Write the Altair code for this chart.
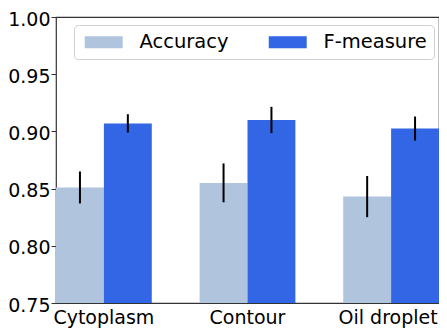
import altair as alt
import pandas as pd

categories = ["Cytoplasm", "Contour", "Oil droplet"]
metrics = ["Accuracy", "F-measure"]
accuracy = [0.851, 0.855, 0.843]
accuracy_err = [0.014, 0.017, 0.018]
fmeasure = [0.907, 0.910, 0.9025]
fmeasure_err = [0.008, 0.0115, 0.0105]
colors = ["#b0c4de", "#3366e4"]

rows = []
for c, a, ae, f, fe in zip(categories, accuracy, accuracy_err, fmeasure, fmeasure_err):
    rows.append({"category": c, "metric": "Accuracy", "value": a, "lo": a - ae, "hi": a + ae})
    rows.append({"category": c, "metric": "F-measure", "value": f, "lo": f - fe, "hi": f + fe})
df = pd.DataFrame(rows)

FONT = "DejaVu Sans"

x = alt.X("category:N", sort=categories, title=None,
          scale=alt.Scale(paddingInner=0.333, paddingOuter=0),
          axis=alt.Axis(labelAngle=0, ticks=False, domain=False, labelFontSize=19,
                        labelFont=FONT, labelColor="#000", labelPadding=5,
                        labelOffset=alt.ExprRef("datum.value == 'Oil droplet' ? -3 : 0")))
xo = alt.XOffset("metric:N", sort=metrics, scale=alt.Scale(paddingInner=0, paddingOuter=0))
yscale = alt.Scale(domain=[0.75, 1.0], zero=False, nice=False)

bars = alt.Chart(df).mark_bar(clip=True).encode(
    x=x, xOffset=xo,
    y=alt.Y("value:Q", scale=yscale, title=None,
            axis=alt.Axis(values=[0.75, 0.8, 0.85, 0.9, 0.95, 1.0], format=".2f", grid=False,
                          domain=False, tickSize=5, tickColor="#333", labelFontSize=19,
                          labelFont=FONT, labelColor="#000", labelPadding=1, labelOffset=2)),
    color=alt.Color("metric:N", sort=metrics, scale=alt.Scale(domain=metrics, range=colors),
                    legend=alt.Legend(title=None, orient="none", legendX=18, legendY=8,
                                      direction="horizontal", symbolType="M-1,-1H5.33V1H-1Z",
                                      symbolSize=144, symbolStrokeWidth=0, symbolOpacity=1,
                                      labelFontSize=19.5, labelFont=FONT, labelColor="#000",
                                      columnPadding=36, labelOffset=39, padding=7,
                                      fillColor="white", strokeColor="#d0d0d0", cornerRadius=4)),
)

errs = alt.Chart(df).mark_rule(color="black", strokeWidth=2).encode(
    x=x, xOffset=xo,
    y=alt.Y("lo:Q", scale=yscale),
    y2="hi:Q",
)

chart = alt.layer(bars, errs).properties(
    width=383, height=286,
    autosize=alt.AutoSizeParams(type="none"),
    padding={"left": 48, "top": 9, "right": 0, "bottom": 30},
).configure_view(stroke="#333", strokeWidth=1.2)

chart.save("out.html", embed_options={"renderer": "svg", "actions": False})
